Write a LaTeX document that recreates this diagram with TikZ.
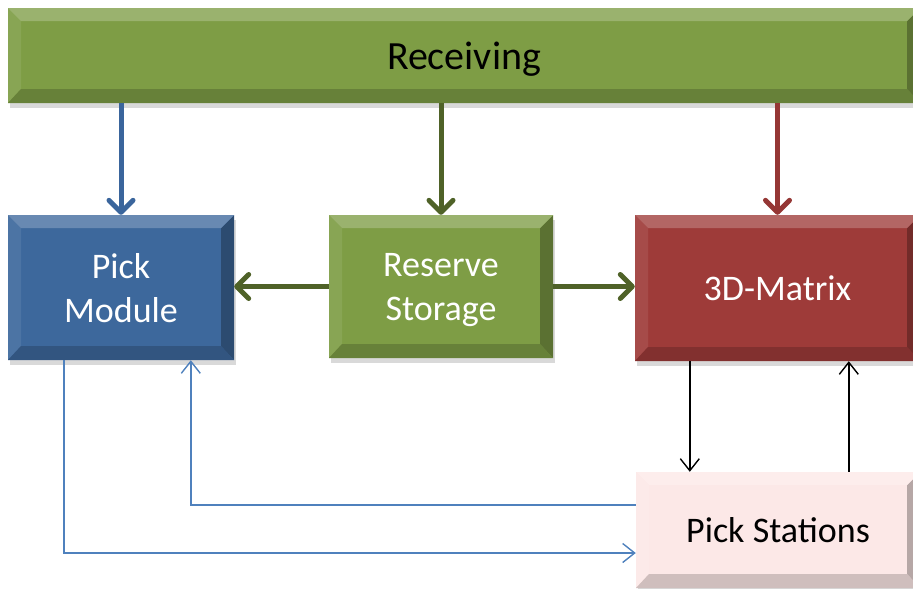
\documentclass[tikz,border=0pt]{standalone}
\usepackage{fontspec}
\setmainfont{Carlito}
\usetikzlibrary{arrows.meta,shadows}

\definecolor{recvgreen}{HTML}{7E9D45}
\definecolor{pickblue}{HTML}{3D689C}
\definecolor{matrixred}{HTML}{9E3B39}
\definecolor{stationpink}{HTML}{FCE8E7}
\definecolor{arrowgreen}{HTML}{4F6228}
\definecolor{arrowblue}{HTML}{3A659C}
\definecolor{arrowred}{HTML}{953735}
\definecolor{lineblue}{HTML}{4F81BD}

% four bevel faces inside a block
\newcommand\bevelfaces[1]{%
  \path (path picture bounding box.north west) coordinate (bvNW)
        (path picture bounding box.north east) coordinate (bvNE)
        (path picture bounding box.south east) coordinate (bvSE)
        (path picture bounding box.south west) coordinate (bvSW);
  \fill[#1!92!white] (bvNW) -- ([shift={(13pt,-13pt)}]bvNW) -- ([shift={(13pt,14pt)}]bvSW) -- (bvSW) -- cycle;
  \fill[#1!72!black] (bvNE) -- ([shift={(-13pt,-13pt)}]bvNE) -- ([shift={(-13pt,14pt)}]bvSE) -- (bvSE) -- cycle;
  \fill[#1!78!white] (bvNW) -- (bvNE) -- ([shift={(-13pt,-13pt)}]bvNE) -- ([shift={(13pt,-13pt)}]bvNW) -- cycle;
  \fill[#1!82!black] (bvSW) -- (bvSE) -- ([shift={(-13pt,14pt)}]bvSE) -- ([shift={(13pt,14pt)}]bvSW) -- cycle;
}

\tikzset{
  block/.style={rectangle, fill=#1, inner sep=0pt, align=center, text depth=0pt,
    font=\fontsize{36}{44}\selectfont,
    drop shadow={shadow xshift=2pt, shadow yshift=-5pt, opacity=.3},
    path picture={\bevelfaces{#1}}},
  feed/.style={line width=5pt, -{Straight Barb[round,length=12pt,width=24pt]}},
  flow/.style={line width=1.4pt, -{Straight Barb[length=12pt,width=19pt]}},
}

\begin{document}
\begin{tikzpicture}[x=1pt,y=-1pt]
\useasboundingbox (0,0) rectangle (913,589);
\node[block=recvgreen, minimum width=912pt, minimum height=95pt, font=\fontsize{40}{48}\selectfont] (RC) at (464,55.5) {Receiving};
\node[block=pickblue, text=white, minimum width=226pt, minimum height=145pt] (PM) at (121,287.5) {Pick\\Module};
\node[block=recvgreen, text=white, minimum width=224pt, minimum height=143pt] (RS) at (441,286.5) {Reserve\\Storage};
\node[block=matrixred, text=white, minimum width=285pt, minimum height=146pt] (MX) at (777.5,288) {3D-Matrix};
\node[block=stationpink, minimum width=284pt, minimum height=116pt] (PS) at (778,530) {Pick Stations};
\draw[feed, arrowblue] (RC.south -| PM.north) -- (PM.north);
\draw[feed, arrowgreen] (RC.south -| RS.north) -- (RS.north);
\draw[feed, arrowred] (RC.south -| MX.north) -- (MX.north);
\draw[feed, arrowgreen] (RS.west) -- (RS.west -| PM.east);
\draw[feed, arrowgreen] (RS.east) -- (RS.east -| MX.west);
\draw[flow, black] ([xshift=55pt]MX.south west) -- ([xshift=55pt]MX.south west |- PS.north);
\draw[flow, black] ([xshift=214pt]MX.south west |- PS.north) -- ([xshift=214pt]MX.south west);
\draw[flow, lineblue] ([xshift=56pt]PM.south west) |- ([yshift=-23pt]PS.west);
\draw[flow, lineblue] ([yshift=25pt]PS.west) -| ([xshift=183pt]PM.south west);
\end{tikzpicture}
\end{document}
